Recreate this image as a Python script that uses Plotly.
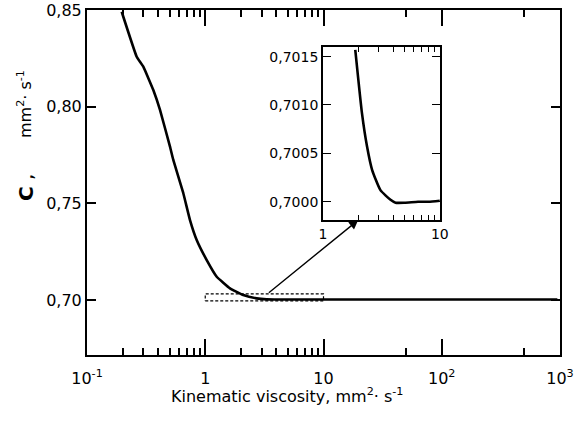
import plotly.graph_objects as go

# ---- data ----
main_x = [0.1965, 0.2632, 0.2993, 0.3637, 0.4143, 0.5034, 0.5367, 0.6523, 0.743,
          0.8465, 1.029, 1.25, 1.619, 2.098, 2.718, 3.303, 4.2, 6.0, 10.0, 100.0, 950.0]
main_y = [0.8491, 0.8258, 0.8207, 0.8086, 0.7983, 0.7793, 0.7724, 0.7552, 0.7413,
          0.7310, 0.7206, 0.7120, 0.7060, 0.7025, 0.7008, 0.7003, 0.7002, 0.7002,
          0.7002, 0.7002, 0.7002]

inset_x = [1.888, 2.157, 2.381, 2.630, 3.100, 3.781, 4.176, 5.0, 6.5, 8.0, 10.0]
inset_y = [0.70157, 0.70091, 0.70057, 0.70033, 0.70012, 0.70002, 0.69999, 0.69999,
           0.70000, 0.70000, 0.70001]

box_x = [1.0, 10.0]
box_y = [0.6995, 0.7031]

main_xticks = [0.1, 1, 10, 100, 1000]
main_xtext = ["10<sup>-1</sup>", "1", "10", "10<sup>2</sup>", "10<sup>3</sup>"]
main_xminor = [0.2, 0.3, 0.4, 0.5, 0.6, 0.7, 0.8, 0.9,
               2, 3, 4, 5, 6, 7, 8, 9, 50, 500]
main_yticks = [0.70, 0.75, 0.80, 0.85]
inset_xticks = [1, 10]
inset_xtext = ["1", "10"]
inset_xminor = [2, 3, 4, 5, 6, 7, 8, 9]
inset_yticks = [0.7000, 0.7005, 0.7010, 0.7015]

# ---- layout geometry ----
W, H = 579, 421
ML, MR, MT, MB = 87, 19, 10, 66
main_xr = [-1, 3]
main_yr = [0.6715, 0.85]
inset_xr = [0, 1]
inset_yr = [0.69981, 0.70160]
inset_xd = [0.499, 0.746]
inset_yd = [0.391, 0.893]

FONT = "DejaVu Sans"

fig = go.Figure()
fig.add_trace(go.Scatter(x=main_x, y=main_y, mode="lines",
                         line=dict(color="black", width=2.6, shape="spline", smoothing=0.3),
                         xaxis="x", yaxis="y", showlegend=False, hoverinfo="skip"))
# dashed box marking the magnified region
fig.add_trace(go.Scatter(x=[box_x[0], box_x[1], box_x[1], box_x[0], box_x[0]],
                         y=[box_y[0], box_y[0], box_y[1], box_y[1], box_y[0]],
                         mode="lines", line=dict(color="black", width=1.2, dash="3px,2px"),
                         xaxis="x", yaxis="y", showlegend=False, hoverinfo="skip"))
fig.add_trace(go.Scatter(x=inset_x, y=inset_y, mode="lines",
                         line=dict(color="black", width=2.6, shape="spline", smoothing=0.5),
                         xaxis="x2", yaxis="y2", showlegend=False, hoverinfo="skip"))

axis_common = dict(showgrid=False, zeroline=False, showline=True, linecolor="black",
                   linewidth=2, ticks="inside", tickcolor="black", mirror="ticks",
                   tickfont=dict(family=FONT, size=16, color="black"))

fig.update_layout(
    width=W, height=H, margin=dict(l=ML, r=MR, t=MT, b=MB, autoexpand=False),
    paper_bgcolor="white", plot_bgcolor="white", separators=", ",
    xaxis=dict(type="log", range=main_xr, tickvals=main_xticks, ticktext=main_xtext,
               ticklen=16, tickwidth=1.5, ticklabelstandoff=8,
               minor=dict(tickvals=main_xminor, ticklen=7, tickwidth=1.5,
                          ticks="inside", tickcolor="black"),
               **axis_common),
    yaxis=dict(range=main_yr, tickvals=main_yticks, tickformat=".2f",
               ticklen=9, tickwidth=1.5, **axis_common),
    xaxis2=dict(type="log", range=inset_xr, domain=inset_xd, anchor="y2",
                tickvals=inset_xticks, ticktext=inset_xtext, ticklen=8, tickwidth=1.2,
                minor=dict(tickvals=inset_xminor, ticklen=5, tickwidth=1.2,
                           ticks="inside", tickcolor="black"),
                showgrid=False, zeroline=False, showline=True, linecolor="black",
                linewidth=1.8, ticks="inside", tickcolor="black", mirror="ticks",
                tickfont=dict(family=FONT, size=14, color="black")),
    yaxis2=dict(range=inset_yr, domain=inset_yd, anchor="x2",
                tickvals=inset_yticks, tickformat=".4f", ticklen=8, tickwidth=1.2,
                showgrid=False, zeroline=False, showline=True, linecolor="black",
                linewidth=1.8, ticks="inside", tickcolor="black", mirror="ticks",
                tickfont=dict(family=FONT, size=14, color="black")),
)

# arrow from the dashed box to the inset (both ends expressed in main-axis coords)
head_xfrac = inset_xd[0] + (0.30103 - inset_xr[0]) / (inset_xr[1] - inset_xr[0]) * (inset_xd[1] - inset_xd[0])
head_x = main_xr[0] + head_xfrac * (main_xr[1] - main_xr[0])
head_y = main_yr[0] + inset_yd[0] * (main_yr[1] - main_yr[0])
tail_x = 0.525
tail_y = box_y[1]
fig.add_annotation(x=head_x, y=head_y, xref="x", yref="y",
                   ax=tail_x, ay=tail_y, axref="x", ayref="y",
                   showarrow=True, arrowhead=2, arrowsize=1.3, arrowwidth=1.4,
                   arrowcolor="black", text="")

# axis titles
PW, PH = W - ML - MR, H - MT - MB
fig.add_annotation(x=(26 - ML) / PW, y=(H - MB - 188) / PH,
                   xref="paper", yref="paper", showarrow=False, textangle=-90,
                   xanchor="center", yanchor="middle",
                   text="<b>C</b> ,", font=dict(family=FONT, size=20, color="black"))
fig.add_annotation(x=(24 - ML) / PW, y=(H - MB - 104) / PH,
                   xref="paper", yref="paper", showarrow=False, textangle=-90,
                   xanchor="center", yanchor="middle",
                   text="mm<sup>2</sup>· s<sup>-1</sup>", font=dict(family=FONT, size=16, color="black"))
fig.add_annotation(x=(287 - ML) / PW, y=(H - MB - 395) / PH,
                   xref="paper", yref="paper", showarrow=False,
                   xanchor="center", yanchor="middle",
                   text="Kinematic viscosity, mm<sup>2</sup>· s<sup>-1</sup>",
                   font=dict(family=FONT, size=16, color="black"))

fig.write_html("out.html")
